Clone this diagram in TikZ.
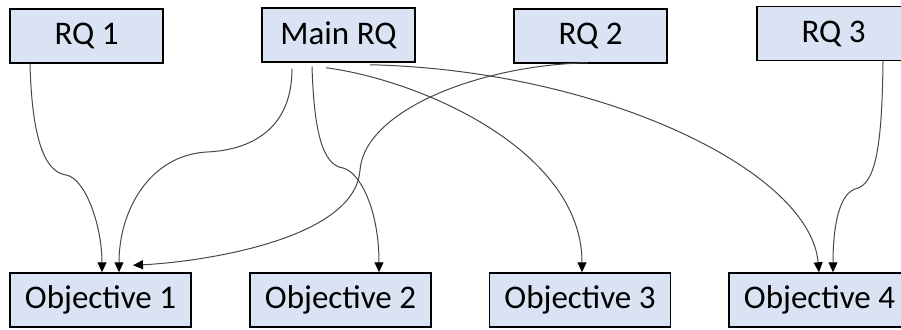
\documentclass[tikz,border=0pt]{standalone}
\usepackage{fontspec}
\setmainfont{Carlito}
\usetikzlibrary{arrows.meta}
\definecolor{boxfill}{HTML}{DAE3F3}
\definecolor{wire}{HTML}{474747}
\tikzset{
  rqbox/.style={draw=black, line width=1.5pt, fill=boxfill, inner sep=0pt,
    minimum width=153pt, minimum height=54pt,
    font=\fontsize{33}{39}\selectfont},
  objbox/.style={rqbox, minimum width=181pt},
  conn/.style={draw=wire, line width=1pt,
    -{Triangle[length=10pt,width=9pt,fill=black,color=black]}}
}
\begin{document}
\begin{tikzpicture}[x=1pt,y=-1pt]
  \clip (0,0) rectangle (901,329);
  \fill[white] (0,0) rectangle (901,329);

  % research questions
  \node[rqbox] (rq1)  at (86.5,36)  {RQ 1};
  \node[rqbox] (main) at (338.5,35) {Main RQ};
  \node[rqbox] (rq2)  at (590.5,36) {RQ 2};
  \node[rqbox] (rq3)  at (833.5,33.5) {RQ 3};

  % objectives
  \node[objbox] (obj1) at (100.5,300) {Objective 1};
  \node[objbox] (obj2) at (340.5,300) {Objective 2};
  \node[objbox] (obj3) at (580,300)   {Objective 3};
  \node[objbox] (obj4) at (819.5,300) {Objective 4};

  % RQ 1 -> Objective 1
  \draw[conn] ([xshift=-56.5pt]rq1.south)
    .. controls (32,140) and (45,172) .. (66,175)
    .. controls (85,178) and (102,225) .. ([xshift=1.5pt]obj1.north);

  % Main RQ -> Objective 1
  \draw[conn] ([xshift=-46.5pt,yshift=-6pt]main.south)
    .. controls (292,130) and (250,150) .. (207,152)
    .. controls (150,155) and (119,210) .. ([xshift=18.5pt]obj1.north);

  % Main RQ -> Objective 2
  \draw[conn] ([xshift=-26.5pt,yshift=-4pt]main.south)
    .. controls (314,130) and (322,165) .. (343,168)
    .. controls (360,172) and (379,210) .. ([xshift=38.5pt]obj2.north);

  % Main RQ -> Objective 3
  \draw[conn] ([xshift=-12.5pt,yshift=-5pt]main.south)
    .. controls (420,80) and (582,150) .. ([xshift=2pt]obj3.north);

  % Main RQ -> Objective 4
  \draw[conn] ([xshift=31.5pt,yshift=-2pt]main.south)
    .. controls (600,70) and (810,170) .. ([xshift=-0.5pt]obj4.north);

  % RQ 2 -> Objective 1
  \draw[conn] ([xshift=-2.5pt,yshift=1pt]rq2.south)
    .. controls (480,65) and (365,110) .. (360,170)
    .. controls (355,240) and (200,262) .. ([xshift=32.5pt,yshift=7pt]obj1.north);

  % RQ 3 -> Objective 4
  \draw[conn] ([xshift=49.5pt]rq3.south)
    .. controls (882,150) and (875,185) .. (855,189)
    .. controls (838,195) and (833,230) .. ([xshift=13.5pt]obj4.north);
\end{tikzpicture}
\end{document}
